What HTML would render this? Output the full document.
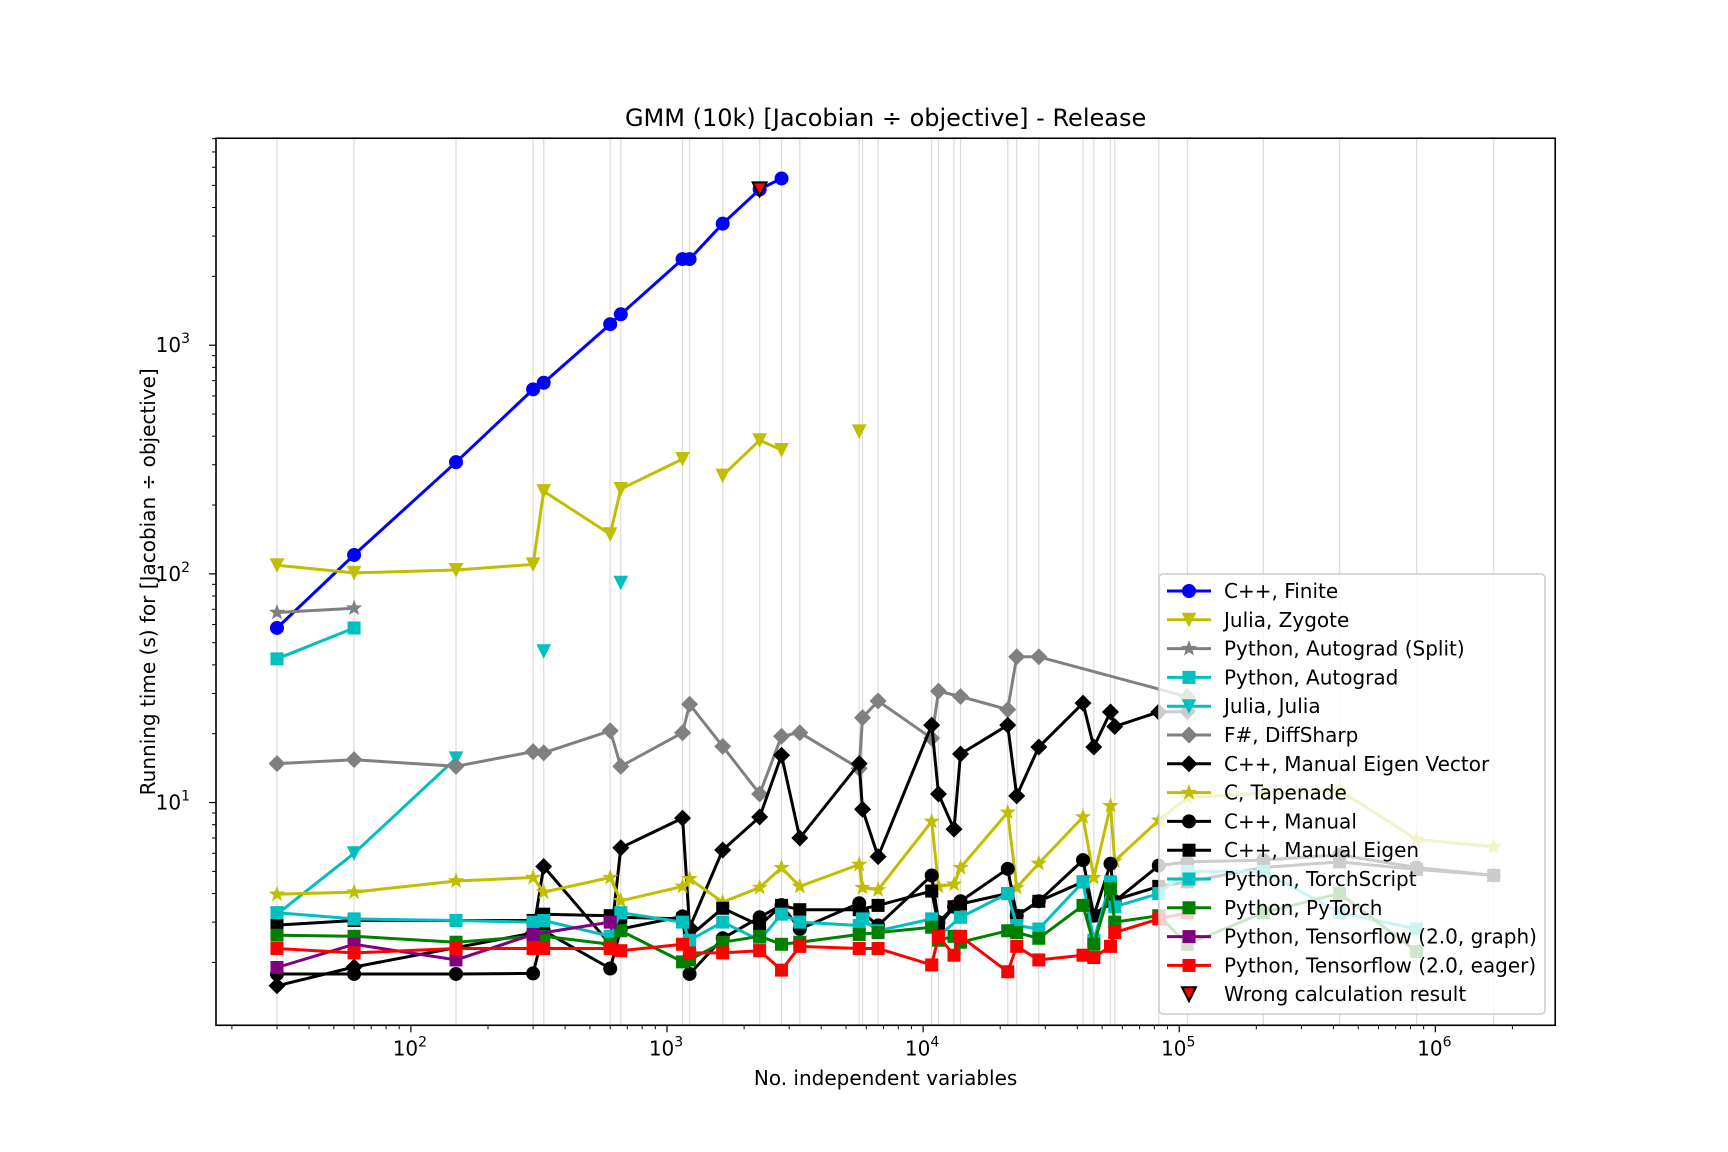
<!DOCTYPE html>
<html><head><meta charset="utf-8"><style>
html,body{margin:0;padding:0;background:#fff;}
svg{display:block;font-family:"DejaVu Sans","Liberation Sans",sans-serif;}
</style></head><body>
<svg id="chart" width="1728" height="1152" viewBox="0 0 1728 1152" xmlns="http://www.w3.org/2000/svg">
<rect x="0" y="0" width="1728" height="1152" fill="#fff"/>
<text x="885.6" y="126" font-size="24" text-anchor="middle">GMM (10k) [Jacobian ÷ objective] - Release</text>
<text x="885.6" y="1085" font-size="20" text-anchor="middle">No. independent variables</text>
<text transform="translate(155,581.8) rotate(-90)" font-size="20" text-anchor="middle">Running time (s) for [Jacobian ÷ objective]</text>
<g id="grid"></g><g id="ticks"></g><g id="plot"></g>
<rect x="216" y="138.24" width="1339.2" height="887.04" fill="none" stroke="#000" stroke-width="1.6"/>
<g id="legend"></g>
</svg>
<script>
const xDomain=[1.239,6.468], yDomain=[0.026,3.905];
const L=216,R=1555.2,T=138.24,B=1025.28;
function X(v){return L+(Math.log10(v)-xDomain[0])/(xDomain[1]-xDomain[0])*(R-L);}
function Y(v){return B-(Math.log10(v)-yDomain[0])/(yDomain[1]-yDomain[0])*(B-T);}
const NS="http://www.w3.org/2000/svg";
function mk(tag,attrs,parent){const e=document.createElementNS(NS,tag);for(const k in attrs)e.setAttribute(k,attrs[k]);parent.appendChild(e);return e;}

const xTickValues=[100,1000,10000,100000,1000000];
const xTickExp=["2","3","4","5","6"];
const yTickValues=[10,100,1000];
const yTickExp=["1","2","3"];
const gridX=[30,60,150,300,330,600,660,1150,1225,1650,2300,2800,3300,5630,5800,6670,10800,11480,13200,14000,21400,23200,28300,42100,46400,53900,56000,83200,107600,213000,423000,845000,1690000];

const cppFiniteX=[30,60,150,300,330,600,660,1150,1225,1650,2300,2800];
const cppFiniteY=[58,121,308,641,685,1235,1365,2380,2380,3400,4800,5360];
const zygoteX=[30,60,150,300,330,600,660,1150,1650,2300,2800,5630];
const zygoteY=[109,101,104,110,230,149,235,318,269,384,348,420];
const zygoteBreaks=[8,11];
const autogradSplitX=[30,60];
const autogradSplitY=[67.8,70.8];
const autogradX=[30,60];
const autogradY=[42.5,58];
const juliaX=[30,60,150,330,660];
const juliaY=[3.25,6.0,15.6,45.9,91.4];
const juliaBreaks=[3,4];
const diffsharpX=[30,60,150,300,330,600,660,1150,1225,1650,2300,2800,3300,5630,5800,6670,10800,11480,14000,21400,23200,28300,107600];
const diffsharpY=[14.8,15.4,14.4,16.7,16.5,20.6,14.4,20.2,26.9,17.6,10.9,19.5,20.2,14.1,23.5,27.8,19.1,30.7,29.1,25.5,43.4,43.4,29];
const eigenVecX=[30,60,300,330,600,660,1150,1225,1650,2300,2800,3300,5630,5800,6670,10800,11480,13200,14000,21400,23200,28300,42100,46400,53900,56000,83200,107600];
const eigenVecY=[1.58,1.91,2.69,5.25,2.4,6.34,8.55,2.84,6.2,8.65,16.1,7.0,14.8,9.35,5.8,21.8,10.9,7.65,16.3,21.8,10.7,17.5,27.2,17.5,24.9,21.5,24.9,25];
const tapenadeX=[30,60,150,300,330,600,660,1150,1225,1650,2300,2800,3300,5630,5800,6670,10800,11480,13200,14000,21400,23200,28300,42100,46400,53900,56000,83200,107600,213000,423000,845000,1690000];
const tapenadeY=[3.97,4.06,4.54,4.7,4.06,4.7,3.72,4.3,4.64,3.67,4.25,5.19,4.3,5.36,4.25,4.15,8.27,4.3,4.39,5.19,9.06,4.25,5.42,8.65,4.7,9.68,5.55,8.37,10.5,11,11.3,6.9,6.4];
const manualX=[30,60,150,300,330,600,660,1150,1225,1650,2300,2800,3300,5630,5800,6670,10800,11480,13200,14000,21400,23200,28300,42100,46400,53900,56000,83200,107600,213000,423000,845000,1690000];
const manualY=[1.78,1.78,1.78,1.79,2.75,1.88,2.8,3.18,1.78,2.55,3.15,3.56,2.8,3.63,3.3,2.9,4.8,3.0,3.5,3.7,5.13,3.2,3.7,5.6,3.2,5.4,3.7,5.3,5.5,5.6,5.9,5.2,4.8];
const eigenX=[30,60,150,300,330,600,660,1150,1225,1650,2300,2800,3300,5630,6670,10800,11480,13200,14000,21400,23200,28300,42100,46400,53900,83200,107600,213000,423000,845000,1690000];
const eigenY=[2.91,3.05,3.05,3.05,3.25,3.2,3.15,3.1,2.6,3.45,2.9,3.55,3.4,3.4,3.55,4.1,2.9,3.5,3.6,4.0,3.2,3.7,4.5,3.2,3.7,4.3,4.5,5.2,5.5,5.1,4.8];
const torchScriptX=[30,60,150,300,330,600,660,1150,1225,1650,2300,2800,3300,5630,5800,6670,10800,11480,14000,21400,23200,28300,42100,46400,53900,56000,83200,107600,213000,423000,845000];
const torchScriptY=[3.3,3.1,3.05,3.0,3.05,2.6,3.3,3.0,2.5,3.0,2.5,3.25,3.0,2.9,3.1,2.75,3.1,2.6,3.15,4.0,2.9,2.8,4.5,2.5,4.5,3.5,4.0,5.0,5.0,3.3,2.8];
const pytorchX=[30,60,150,300,330,600,660,1150,1225,1650,2300,2800,3300,5630,6670,10800,11480,13200,14000,21400,23200,28300,42100,46400,53900,56000,83200,107600,213000,423000,845000];
const pytorchY=[2.63,2.6,2.45,2.6,2.6,2.4,2.75,2.01,2.05,2.45,2.6,2.4,2.45,2.65,2.7,2.85,2.5,2.6,2.45,2.75,2.7,2.55,3.55,2.4,4.2,3.0,3.2,2.4,3.3,4.0,2.23];
const tfGraphX=[30,60,150,300,600];
const tfGraphY=[1.9,2.4,2.05,2.65,3.0];
const tfEagerX=[30,60,150,300,330,600,660,1150,1225,1650,2300,2800,3300,5630,6670,10800,11480,13200,14000,21400,23200,28300,42100,46400,53900,56000,83200,107600];
const tfEagerY=[2.3,2.2,2.3,2.3,2.3,2.3,2.25,2.4,2.2,2.2,2.25,1.85,2.35,2.3,2.3,1.95,2.6,2.15,2.6,1.82,2.35,2.05,2.15,2.1,2.35,2.7,3.1,3.3];
const wrongX=[2300];
const wrongY=[4800];

const grid=document.getElementById('grid');
gridX.forEach(v=>{const l=mk('line',{x1:X(v),x2:X(v),y1:T,y2:B,stroke:'#dcdcdc','stroke-width':1.2},grid);

});

const ticks=document.getElementById('ticks');
xTickValues.forEach((v,i)=>{const x=X(v);
 mk('line',{x1:x,x2:x,y1:B,y2:B+7,stroke:'#000','stroke-width':1.2},ticks);
 const t=mk('text',{x:x-1,y:B+30,'font-size':20,'text-anchor':'middle'},ticks);t.textContent='10';
 
 
 const s=mk('tspan',{dy:-9,'font-size':14},t);s.textContent=xTickExp[i];});
for(let e=1;e<=6;e++)for(let m=2;m<=9;m++){const v=m*Math.pow(10,e);const x=X(v);if(x<L||x>R)continue;
 mk('line',{x1:x,x2:x,y1:B,y2:B+4,stroke:'#000','stroke-width':1},ticks);}
yTickValues.forEach((v,i)=>{const y=Y(v);
 mk('line',{x1:L-7,x2:L,y1:y,y2:y,stroke:'#000','stroke-width':1.2},ticks);
 const t=mk('text',{x:L-26,y:y+7,'font-size':20,'text-anchor':'end'},ticks);t.textContent='10';
 
 
 const s=mk('tspan',{dy:-9,'font-size':14},t);s.textContent=yTickExp[i];});
for(let e=0;e<=3;e++)for(let m=2;m<=9;m++){const v=m*Math.pow(10,e);const y=Y(v);if(y<T||y>B)continue;
 mk('line',{x1:L-4,x2:L,y1:y,y2:y,stroke:'#000','stroke-width':1},ticks);}

function marker(g,type,cx,cy,color,size,stroke){
 const s=size||6.5;let e;
 const st=stroke||color;
 if(type==='o')e=mk('circle',{cx,cy,r:s,fill:color,stroke:st},g);
 else if(type==='s')e=mk('rect',{x:cx-s+0.5,y:cy-s+0.5,width:2*s-1,height:2*s-1,fill:color,stroke:st},g);
 else if(type==='D')e=mk('polygon',{points:`${cx},${cy-s*1.2} ${cx+s*1.2},${cy} ${cx},${cy+s*1.2} ${cx-s*1.2},${cy}`,fill:color,stroke:st},g);
 else if(type==='v')e=mk('polygon',{points:`${cx-s},${cy-s} ${cx+s},${cy-s} ${cx},${cy+s}`,fill:color,stroke:st,'stroke-width':stroke?2:1},g);
 else if(type==='*'){let p=[];for(let k=0;k<10;k++){const r=k%2?s*0.45:s*1.1;const a=-Math.PI/2+k*Math.PI/5;p.push((cx+r*Math.cos(a)).toFixed(1)+','+(cy+r*Math.sin(a)).toFixed(1));}
  e=mk('polygon',{points:p.join(' '),fill:color,stroke:st},g);}
 return e;}

const series=[
 {name:'C++, Finite',id:'cpp-finite',xs:cppFiniteX,ys:cppFiniteY,c:'#0000ff',m:'o'},
 {name:'Julia, Zygote',id:'julia-zygote',xs:zygoteX,ys:zygoteY,br:zygoteBreaks,c:'#bfbf00',m:'v'},
 {name:'Python, Autograd (Split)',id:'python-autograd-split',xs:autogradSplitX,ys:autogradSplitY,c:'#808080',m:'*'},
 {name:'Python, Autograd',id:'python-autograd',xs:autogradX,ys:autogradY,c:'#00bfbf',m:'s'},
 {name:'Julia, Julia',id:'julia-julia',xs:juliaX,ys:juliaY,br:juliaBreaks,c:'#00bfbf',m:'v'},
 {name:'F#, DiffSharp',id:'fsharp-diffsharp',xs:diffsharpX,ys:diffsharpY,c:'#808080',m:'D'},
 {name:'C++, Manual Eigen Vector',id:'cpp-manual-eigen-vector',xs:eigenVecX,ys:eigenVecY,c:'#000000',m:'D'},
 {name:'C, Tapenade',id:'c-tapenade',xs:tapenadeX,ys:tapenadeY,c:'#bfbf00',m:'*'},
 {name:'C++, Manual',id:'cpp-manual',xs:manualX,ys:manualY,c:'#000000',m:'o'},
 {name:'C++, Manual Eigen',id:'cpp-manual-eigen',xs:eigenX,ys:eigenY,c:'#000000',m:'s'},
 {name:'Python, TorchScript',id:'python-torchscript',xs:torchScriptX,ys:torchScriptY,c:'#00bfbf',m:'s'},
 {name:'Python, PyTorch',id:'python-pytorch',xs:pytorchX,ys:pytorchY,c:'#008000',m:'s'},
 {name:'Python, Tensorflow (2.0, graph)',id:'python-tf-graph',xs:tfGraphX,ys:tfGraphY,c:'#800080',m:'s'},
 {name:'Python, Tensorflow (2.0, eager)',id:'python-tf-eager',xs:tfEagerX,ys:tfEagerY,c:'#ff0000',m:'s'}
];
const plot=document.getElementById('plot');
series.forEach(s=>{
 const g=mk('g',{},plot);
 
 
 const br=s.br||[];
 let d='';
 for(let i=0;i<s.xs.length;i++){
  const start=(i===0||br.indexOf(i)>=0);
  d+=(start?'M':'L')+X(s.xs[i]).toFixed(1)+','+Y(s.ys[i]).toFixed(1);}
 const p=mk('path',{d,fill:'none',stroke:s.c,'stroke-width':3,'stroke-linejoin':'round'},g);
 
 
 s.xs.forEach((xv,i)=>{
  const e=marker(g,s.m,X(xv),Y(s.ys[i]),s.c);
  
  });
});
wrongX.forEach((xv,i)=>{const e=marker(plot,'v',X(xv),Y(wrongY[i]),'#ff0000',7,'#000');
 
 });

const lg=document.getElementById('legend');


mk('rect',{x:1159,y:574,width:386,height:440,rx:4,fill:'#fff','fill-opacity':0.8,stroke:'#cccccc','stroke-width':1.5},lg);
const entries=series.map(s=>({name:s.name,c:s.c,m:s.m,line:true})).concat([{name:'Wrong calculation result',c:'#ff0000',m:'v',line:false}]);
entries.forEach((en,i)=>{const y=591+i*28.8;
 const g=mk('g',{},lg);
 
 
 if(en.line)mk('line',{x1:1167,x2:1211,y1:y,y2:y,stroke:en.c,'stroke-width':3},g);
 if(en.line)marker(g,en.m,1189,y,en.c);else marker(g,'v',1189,y,'#ff0000',7,'#000');
 const t=mk('text',{x:1224,y:y+7,'font-size':20},g);t.textContent=en.name;});
</script>
</body></html>
